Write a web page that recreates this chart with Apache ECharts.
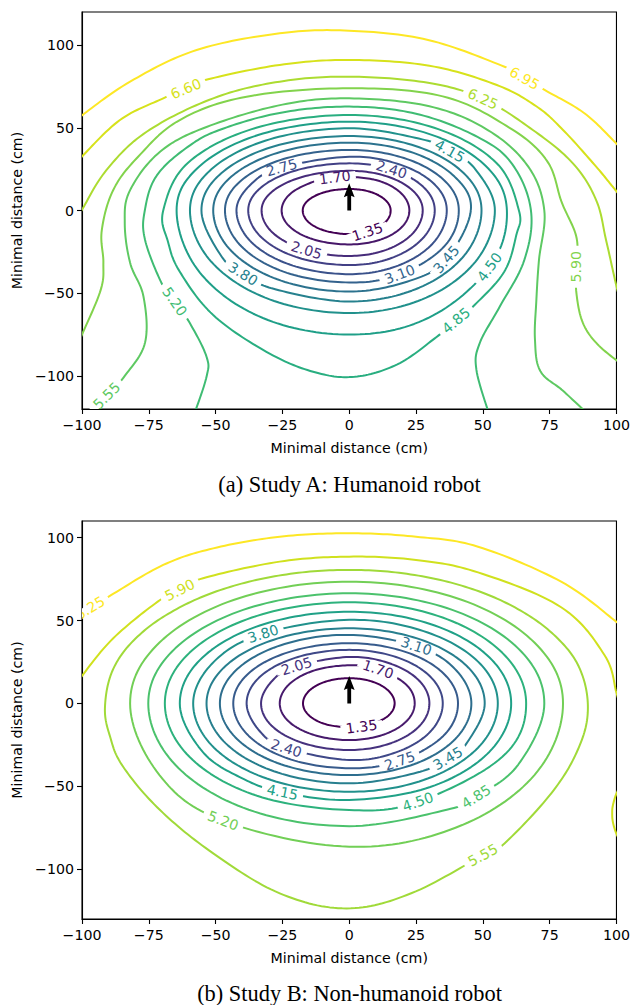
<!DOCTYPE html>
<html><head><meta charset="utf-8">
<script src="https://cdn.jsdelivr.net/npm/echarts@6/dist/echarts.min.js"></script>
<style>html,body{margin:0;padding:0;background:#fff}#c{width:633px;height:1005px}</style>
</head><body><div id="c"></div>
<script>
// ---------- axes / ticks ----------
const X_RANGE = [-100, 100];
const Y_RANGE_A = [-120, 120];
const Y_RANGE_B = [-130, 110];
const X_TICKS = [-100, -75, -50, -25, 0, 25, 50, 75, 100];
const Y_TICKS = [-100, -50, 0, 50, 100];
const AXIS_NAME = 'Minimal distance (cm)';
const CAPTION_A = '(a) Study A: Humanoid robot';
const CAPTION_B = '(b) Study B: Non-humanoid robot';

// ---------- contour levels ----------
const LEVELS_A = [1.35,1.70,2.05,2.40,2.75,3.10,3.45,3.80,4.15,4.50,4.85,5.20,5.55,5.90,6.25,6.60,6.95];
const LEVELS_B = [1.35,1.70,2.05,2.40,2.75,3.10,3.45,3.80,4.15,4.50,4.85,5.20,5.55,5.90,6.25];

// ---------- arrow (quiver) ----------
const ARROW_TAIL = [0, 0];
const ARROW_TIP = [0, 16.5];

// ---------- Study A contour paths (data coords) ----------
const A_C135 = [[15.5,0],[13.4,6.5],[7.8,11.3],[0,13],[-8.7,11.3],[-15.1,6.5],[-17.4,0],[-15.1,-7.2],[-8.7,-12.4],[0,-14.3],[6.8,-12.9],[13.4,-7.2]];
const A_C170 = [[22.5,0],[19.5,10.3],[11.3,17.8],[0,20.5],[-5.4,20],[-12.7,17.8],[-21.9,10.3],[-25.3,0],[-21.9,-10.3],[-12.7,-17.8],[0,-20.5],[11.3,-17.8],[19.5,-10.3]];
const A_C205 = [[27.5,0],[23.8,12],[13.8,20.8],[0,24],[-16.4,20.8],[-28.4,12],[-32.8,0],[-28.4,-13.8],[-16,-24],[0,-27.5],[13.8,-23.8],[23.8,-13.8]];
const A_C240 = [[32,0],[27.7,14.3],[15.8,24.8],[0,28.5],[-18.9,24.7],[-32.7,14.3],[-37.8,0],[-32.7,-16.5],[-18.9,-28.6],[0,-33],[16,-28.6],[27.7,-16.5]];
const A_C275 = [[36.5,0],[31.6,16.3],[18.3,28.1],[0,32.5],[-25.3,26],[-36.5,16.3],[-42.2,0],[-36.5,-19.3],[-21.1,-33.3],[0,-38.5],[18.3,-33.3],[31.6,-19.3]];
const A_C310 = [[41,0],[35.5,18.3],[20.5,31.7],[0,36.6],[-23.3,31.7],[-40.3,18.3],[-46.5,0],[-40.3,-21.8],[-23.3,-37.7],[0,-43.5],[18.9,-38.6],[35.5,-21.8]];
const A_C345 = [[45.5,0],[39.4,20.5],[22.8,35.5],[0,41],[-25.5,35.5],[-44.1,20.5],[-50.9,0],[-44.1,-24.5],[-25.5,-42.4],[0,-49],[22.8,-42.4],[36.3,-29.5]];
const A_C380 = [[49.5,0],[42.9,22.5],[24.8,39],[0,45],[-27.7,39],[-47.9,22.5],[-55.3,0],[-47.9,-27.5],[-39.7,-38.3],[-27.7,-47.6],[0,-55],[24.8,-47.6],[42.9,-27.5]];
const A_C415 = [[54.5,0],[47.2,24.9],[37.6,36],[27.3,43],[0,49.7],[-29.8,43],[-51.6,24.9],[-59.6,0],[-51.6,-31],[-29.8,-53.7],[0,-62],[27.3,-53.7],[47.2,-31]];
const A_C450 = [[59,0],[51.1,26.9],[29.5,46.5],[0,53.7],[-32.3,46.5],[-55.9,26.9],[-64.6,0],[-55.9,-37.5],[-32.3,-65],[0,-75],[29.5,-65],[52.5,-34.2]];
const A_C485 = [[63.5,0],[55,28.9],[31.8,50],[0,57.7],[-34.8,50],[-60.3,28.9],[-69.6,0],[-67.8,-19],[-63.4,-37],[-50.9,-63.2],[-31,-85.4],[-13.5,-97.5],[2,-100.5],[18,-93],[32,-77.3],[40,-66.5],[47,-57],[58,-37],[62.5,-15]];
const A_C520 = [[-58.2,-124],[-53.4,-100.5],[-53.4,-88.4],[-59.6,-68.2],[-65.3,-55],[-70.2,-44],[-76.4,-17.8],[-76.5,0],[-72,21.2],[-59.6,39.4],[-47,49.6],[-25,59.3],[0,62.8],[25,58.5],[48,44.5],[61,28],[68,0],[65.5,-30],[56.3,-58.2],[48.8,-80.3],[47.6,-96.4],[52.5,-124]];
const A_C555 = [[-99,-124],[-90.8,-112],[-84,-100],[-76.4,-79.8],[-77,-52],[-82,-31.6],[-84,-7.5],[-82,12.3],[-70.8,35.5],[-53.4,50.5],[-25,64],[0,67.8],[30,63],[52,48.5],[67,26.5],[73,0],[71,-30],[70,-55],[69.5,-78],[71.5,-97],[80,-109],[90,-124]];
const A_C590 = [[-102,-82],[-100,-75],[-93,-48],[-92,-31.6],[-92.6,-12],[-88.3,12.4],[-79,32.5],[-63.4,54.7],[-38.4,68.8],[0,73.9],[35,69],[60,50],[74,30],[79.5,5],[85,-16],[85,-34],[85,-49.7],[87.4,-67.8],[93,-81],[102,-93]];
const A_C625 = [[-102,-4],[-100,0.5],[-90.8,24.5],[-75.8,47.6],[-50.9,67.8],[-26,77.9],[0,80.9],[29.5,77.2],[50,67.5],[68.7,48.7],[83.7,28.5],[92.4,6.3],[96.1,-17.8],[99.6,-43],[101,-52]];
const A_C660 = [[-102,29],[-100.7,31.5],[-85.8,54.7],[-69.6,67.8],[-61.1,73.6],[-52.8,79.3],[-26,88],[0,91],[30,87.5],[55,76],[70,63],[80,48.7],[92.4,26.5],[99.6,12.4],[102,8]];
const A_C695 = [[-102,55],[-100.7,56.7],[-82,77.9],[-57.1,97],[-26,107.1],[0,108.7],[29.5,103.1],[58.1,86.9],[65.6,79.9],[73.1,72.9],[88,58.8],[99.9,40.6],[102,37]];

// ---------- Study B contour paths ----------
const B_C135 = [[17,0],[14.7,7.6],[8.5,13.2],[0,15.2],[-8.7,13.2],[-15,7.6],[-17.3,0],[-15,-7.3],[-8.7,-12.6],[0,-14.5],[4.6,-14],[8.5,-12.6],[14.7,-7.3]];
const B_C170 = [[24.5,0],[21.2,11.5],[10.8,20.6],[0,23],[-13,19.9],[-22.5,11.5],[-26,0],[-22.5,-11.1],[-13,-19.1],[0,-22.1],[12.3,-19.1],[21.2,-11.1]];
const B_C205 = [[30,0],[26,14],[15,24.2],[0,28],[-19.7,22.5],[-28.6,14],[-33,0],[-28.6,-14.1],[-16.5,-24.3],[0,-28.1],[15,-24.3],[26,-14.1]];
const B_C240 = [[35,0],[30.3,16.2],[17.5,28],[0,32.3],[-19.2,28],[-33.3,16.2],[-38.4,0],[-33.3,-17.1],[-23.5,-27],[0,-34.1],[17.5,-29.5],[30.3,-17.1]];
const B_C275 = [[40.7,0],[35.2,18.2],[20.4,31.4],[0,36.3],[-21.7,31.4],[-37.6,18.2],[-43.4,0],[-37.6,-19.6],[-21.7,-33.9],[0,-39.1],[18.9,-34.6],[35.2,-19.6]];
const B_C310 = [[45.7,0],[39.6,20.7],[25.1,34.5],[0,41.3],[-24.2,35.8],[-41.9,20.7],[-48.4,0],[-41.9,-21.6],[-24.2,-37.4],[0,-43.2],[22.9,-37.4],[39.6,-21.6]];
const B_C345 = [[50.7,0],[43.9,22.7],[25.4,39.2],[0,45.3],[-26.7,39.2],[-46.2,22.7],[-53.4,0],[-46.2,-24.1],[-26.7,-41.7],[0,-48.2],[25.4,-41.7],[36.9,-33.1],[43.9,-24.1]];
const B_C380 = [[55.6,0],[48.2,25.2],[27.8,43.6],[0,50.4],[-32.2,42],[-50.6,25.2],[-58.4,0],[-50.6,-26.7],[-29.2,-46.2],[0,-53.3],[27.8,-46.2],[48.2,-26.7]];
const B_C415 = [[60.6,0],[52.5,27.7],[30.3,47.9],[0,55.3],[-31.7,47.9],[-54.9,27.7],[-63.4,0],[-54.9,-29.1],[-40,-45.2],[-25,-53.5],[0,-58.2],[30.3,-50.4],[52.5,-29.1]];
const B_C450 = [[66.2,0],[57.3,30.5],[33.1,52.8],[0,61],[-34.5,52.8],[-59.8,30.5],[-69,0],[-59.8,-32.2],[-34.5,-55.7],[0,-64.3],[25.7,-59.3],[57.3,-32.2]];
const B_C485 = [[73,0],[63.2,33.2],[36.5,57.5],[0,66.4],[-37.6,57.5],[-65.1,33.2],[-75.2,0],[-65.1,-37],[-37.6,-64.1],[0,-74],[36.5,-64.1],[47.5,-56.2],[63.2,-37]];
const B_C520 = [[80,0],[69.3,36.7],[40,63.6],[0,73.4],[-41,63.6],[-71,36.7],[-82,0],[-71,-43.2],[-47.2,-70.7],[0,-86.4],[40,-74.8],[69.3,-43.2]];
const B_C555 = [[89.3,-4],[86.3,20.8],[77.3,40.3],[63.1,56.9],[44.7,69.7],[23,77.8],[0,80.5],[-23.5,77.8],[-45.7,69.7],[-64.6,56.9],[-79.2,40.3],[-88.3,20.8],[-91.4,-2],[-89.5,-20],[-84.6,-38.2],[-70.8,-64.3],[-50.9,-90.4],[-26,-114.5],[-1,-123.6],[23.2,-114.5],[50,-91.5],[58.1,-84.4],[75.6,-54.2],[85.5,-28.1]];
const B_C590 = [[-102,11],[-100.7,15.1],[-88.3,39.3],[-70.8,62.4],[-63.4,68.4],[-54.7,75.5],[-26,85.5],[0,88.5],[25,86.5],[48.2,79],[79.3,58],[95.5,29.2],[99.9,7],[101,0]];
const B_C590b = [[101,-51],[99.6,-56],[98.6,-62],[98.4,-66],[98.6,-71],[99.6,-77],[101,-82]];
const B_C625 = [[-102,52.5],[-100,54.6],[-97,57.5],[-89,65.4],[-69.6,83.5],[-50.9,93.5],[-26,100.5],[0,102.6],[25,100.5],[48.2,94.5],[79.3,73.4],[99.9,49.3],[102,46]];

// ---------- inline label positions [level, x, y] ----------
const LABELS_A = [[1.35,6.8,-12.9],[1.70,-5.4,20],[2.05,-16,-24],[2.40,15.8,24.8],[2.75,-25.3,26],[3.10,18.9,-38.6],[3.45,36.3,-29.5],[3.80,-39.7,-38.3],[4.15,37.6,36],[4.50,52.5,-34.2],[4.85,40,-66.5],[5.20,-65.3,-55],[5.55,-90.8,-112],[5.90,85,-34],[6.25,50,67.5],[6.60,-61.1,73.6],[6.95,65.6,79.9]];
const LABELS_B = [[1.35,4.6,-14],[1.70,10.8,20.6],[2.05,-19.7,22.5],[2.40,-23.5,-27],[2.75,18.9,-34.6],[3.10,25.1,34.5],[3.45,36.9,-33.1],[3.80,-32.2,42],[4.15,-25,-53.5],[4.50,25.7,-59.3],[4.85,47.5,-56.2],[5.20,-47.2,-70.7],[5.55,50,-91.5],[5.90,-63.4,68.4],[6.25,-97,57.5]];

// [level, points, closed]
const CONTOURS_A = [[1.35,A_C135,true],[1.70,A_C170,true],[2.05,A_C205,true],[2.40,A_C240,true],[2.75,A_C275,true],[3.10,A_C310,true],[3.45,A_C345,true],[3.80,A_C380,true],[4.15,A_C415,true],[4.50,A_C450,true],[4.85,A_C485,true],[5.20,A_C520,false],[5.55,A_C555,false],[5.90,A_C590,false],[6.25,A_C625,false],[6.60,A_C660,false],[6.95,A_C695,false]];
const CONTOURS_B = [[1.35,B_C135,true],[1.70,B_C170,true],[2.05,B_C205,true],[2.40,B_C240,true],[2.75,B_C275,true],[3.10,B_C310,true],[3.45,B_C345,true],[3.80,B_C380,true],[4.15,B_C415,true],[4.50,B_C450,true],[4.85,B_C485,true],[5.20,B_C520,true],[5.55,B_C555,true],[5.90,B_C590,false],[5.90,B_C590b,false],[6.25,B_C625,false]];

// ---------- styling ----------
const VIRIDIS_KEYS = ['#440154','#471365','#482475','#463480','#414487','#3b528b','#355f8d','#2f6c8e','#2a788e','#25848e','#21918c','#1e9c89','#22a884','#2fb47c','#44bf70','#5ec962','#7ad151','#9bd93c','#bddf26','#dfe318','#fde725'];
function hex2rgb(h){return [parseInt(h.substr(1,2),16),parseInt(h.substr(3,2),16),parseInt(h.substr(5,2),16)];}
function viridis(t){
  t=Math.max(0,Math.min(1,t));
  const n=VIRIDIS_KEYS.length-1, f=t*n, i=Math.min(n-1,Math.floor(f)), u=f-i;
  const a=hex2rgb(VIRIDIS_KEYS[i]), b=hex2rgb(VIRIDIS_KEYS[i+1]);
  return 'rgb('+[0,1,2].map(k=>Math.round(a[k]+(b[k]-a[k])*u)).join(',')+')';
}
const FONT = '"DejaVu Sans", Verdana, sans-serif';
const FS = 14.2;
const LINE_W = 2;
const TENSION = 0.175;
const fmt = v => String(v).replace('-', '\u2212');

function levelColor(levels, L){return viridis((L-levels[0])/(levels[levels.length-1]-levels[0]));}

// smooth curve through the (screen-space) vertices, drawn as cubic Bezier pieces
function smoothThrough(P, closed){
  const n=P.length, out=[];
  const get=i=>closed?P[(i+n)%n]:P[Math.max(0,Math.min(n-1,i))];
  const segs=closed?n:n-1, STEPS=16;
  for(let i=0;i<segs;i++){
    const p0=get(i-1),p1=get(i),p2=get(i+1),p3=get(i+2);
    const c1=[p1[0]+(p2[0]-p0[0])*TENSION,p1[1]+(p2[1]-p0[1])*TENSION];
    const c2=[p2[0]-(p3[0]-p1[0])*TENSION,p2[1]-(p3[1]-p1[1])*TENSION];
    for(let k=(i===0?0:1);k<=STEPS;k++){
      const t=k/STEPS,u=1-t,a=u*u*u,b=3*u*u*t,c=3*u*t*t,d=t*t*t;
      out.push([a*p1[0]+b*c1[0]+c*c2[0]+d*p2[0], a*p1[1]+b*c1[1]+c*c2[1]+d*p2[1]]);
    }
  }
  return out;
}

function contourSeries(idx, contours, levels){
  return {
    type:'custom', xAxisIndex:idx, yAxisIndex:idx, clip:true, z:2, silent:true,
    data: contours.map(()=>[0,0]),
    renderItem(params, api){
      const c = contours[params.dataIndex];
      const pts = smoothThrough(c[1].map(p=>api.coord(p)), c[2]);
      return {type:'polyline', shape:{points:pts},
        style:{fill:'none', stroke:levelColor(levels,c[0]), lineWidth:LINE_W, lineJoin:'round', lineCap:'butt'}};
    }
  };
}

function labelSeries(idx, contours, labels, levels){
  return {
    type:'custom', xAxisIndex:idx, yAxisIndex:idx, clip:true, z:3, silent:true,
    data: labels.map(()=>[0,0]),
    renderItem(params, api){
      const lb = labels[params.dataIndex];
      let best=null, bd=Infinity;
      contours.forEach(c=>{
        if (Math.abs(c[0]-lb[0])>1e-6) return;
        c[1].forEach((p,i)=>{const d=(p[0]-lb[1])**2+(p[1]-lb[2])**2; if(d<bd){bd=d;best={c,i};}});
      });
      const pts=best.c[1], n=pts.length, i=best.i;
      let prev, next;
      if (best.c[2]) {prev=pts[(i-1+n)%n]; next=pts[(i+1)%n];}
      else {prev=pts[Math.max(0,i-1)]; next=pts[Math.min(n-1,i+1)];}
      const P=api.coord(pts[i]), A=api.coord(prev), B=api.coord(next);
      let ang=Math.atan2(-(B[1]-A[1]), B[0]-A[0]);
      if (ang>Math.PI/2) ang-=Math.PI;
      if (ang<=-Math.PI/2) ang+=Math.PI;
      const col=levelColor(levels, lb[0]);
      return {type:'group', x:P[0], y:P[1], rotation:ang, children:[
        {type:'rect', shape:{x:-21, y:-3.8, width:42, height:7.6}, style:{fill:'#fff'}},
        {type:'text', style:{text:lb[0].toFixed(2), x:0, y:0, fill:col, font:FS+'px '+FONT, align:'center', verticalAlign:'middle'}}
      ]};
    }
  };
}

function arrowSeries(idx){
  return {
    type:'custom', xAxisIndex:idx, yAxisIndex:idx, clip:true, z:4, silent:true,
    data:[[ARROW_TAIL[0],ARROW_TAIL[1]]],
    renderItem(params, api){
      const b=api.coord(ARROW_TAIL), t=api.coord(ARROW_TIP);
      const x=b[0], sw=1.9, hw=5.4, hl=14, ha=12.5;
      return {type:'polygon', shape:{points:[[x-sw,b[1]],[x-sw,t[1]+ha],[x-hw,t[1]+hl],[x,t[1]],[x+hw,t[1]+hl],[x+sw,t[1]+ha],[x+sw,b[1]]]},
        style:{fill:'#000', stroke:null}};
    }
  };
}

function xAxisCfg(idx){
  return {gridIndex:idx, type:'value', min:X_RANGE[0], max:X_RANGE[1], interval:25,
    axisLine:{show:true, onZero:false, lineStyle:{color:'#000', width:1.1}},
    axisTick:{show:true, length:5, lineStyle:{color:'#000', width:1.1}, customValues:X_TICKS},
    axisLabel:{color:'#000', fontSize:FS, fontFamily:FONT, margin:9, formatter:fmt, customValues:X_TICKS},
    splitLine:{show:false},
    name:AXIS_NAME, nameLocation:'middle', nameGap:32,
    nameTextStyle:{color:'#000', fontSize:FS, fontFamily:FONT}};
}
function yAxisCfg(idx, range){
  return {gridIndex:idx, type:'value', min:range[0], max:range[1],
    axisLine:{show:true, onZero:false, lineStyle:{color:'#000', width:1.1}},
    axisTick:{show:true, length:5, lineStyle:{color:'#000', width:1.1}, customValues:Y_TICKS},
    axisLabel:{color:'#000', fontSize:FS, fontFamily:FONT, margin:8, formatter:fmt, customValues:Y_TICKS},
    splitLine:{show:false},
    name:AXIS_NAME, nameLocation:'middle', nameGap:56, nameRotate:90,
    nameTextStyle:{color:'#000', fontSize:FS, fontFamily:FONT}};
}

const chart = echarts.init(document.getElementById('c'), null, {renderer:'svg', width:633, height:1005});
chart.setOption({
  animation:false,
  backgroundColor:'#fff',
  grid:[
    {left:82, top:12, width:535, height:397, show:true, borderColor:'#000', borderWidth:1.1, backgroundColor:'#fff'},
    {left:82, top:521, width:535, height:398, show:true, borderColor:'#000', borderWidth:1.1, backgroundColor:'#fff'}
  ],
  xAxis:[xAxisCfg(0), xAxisCfg(1)],
  yAxis:[yAxisCfg(0, Y_RANGE_A), yAxisCfg(1, Y_RANGE_B)],
  series:[
    contourSeries(0, CONTOURS_A, LEVELS_A),
    labelSeries(0, CONTOURS_A, LABELS_A, LEVELS_A),
    arrowSeries(0),
    contourSeries(1, CONTOURS_B, LEVELS_B),
    labelSeries(1, CONTOURS_B, LABELS_B, LEVELS_B),
    arrowSeries(1)
  ],
  graphic:[
    {type:'text', x:349.5, y:484, z:10, style:{text:CAPTION_A, font:'22.4px "Liberation Serif", "Times New Roman", serif', fill:'#000', align:'center', verticalAlign:'middle', textAlign:'center', textVerticalAlign:'middle'}},
    {type:'text', x:349.5, y:993, z:10, style:{text:CAPTION_B, font:'22.4px "Liberation Serif", "Times New Roman", serif', fill:'#000', align:'center', verticalAlign:'middle', textAlign:'center', textVerticalAlign:'middle'}}
  ]
});
</script></body></html>
